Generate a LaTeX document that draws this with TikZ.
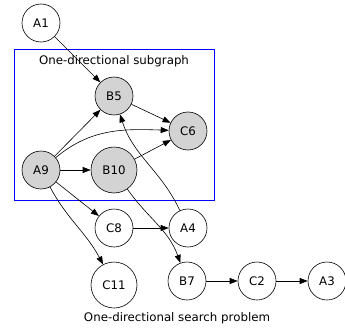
\documentclass[tikz,border=0pt]{standalone}
\usepackage{fontspec}
\setmainfont{DejaVu Sans}
\usetikzlibrary{arrows.meta}
\definecolor{nodegray}{RGB}{211,211,211}
\begin{document}
\begin{tikzpicture}[x=1pt,y=1pt,font=\fontsize{11.8}{14}\selectfont,
    vtx/.style={circle,draw,line width=0.6pt,minimum size=38pt,inner sep=0pt},
    sub/.style={vtx,fill=nodegray},
    edge/.style={-{Triangle[length=8pt,width=6pt]},line width=0.6pt}]
    \useasboundingbox(0,0) rectangle (345,-329);
    \draw[blue,line width=0.7pt](14,-49) rectangle (214,-200);
    \node(lab)at(114,-61){One-directional subgraph};
    \node(cap)at(177,-318){One-directional search problem};
    \node[vtx](A1)at(41,-23){A1};
    \node[sub](B5)at(114,-96){B5};
    \node[sub](C6)at(188,-131){C6};
    \node[sub](A9)at(41,-170){A9};
    \node[sub,minimum size=46pt](B10)at(114,-170){B10};
    \node[vtx](C8)at(114,-228){C8};
    \node[vtx](A4)at(188,-228){A4};
    \node[vtx,minimum size=46pt](C11)at(114,-285){C11};
    \node[vtx](B7)at(187,-281){B7};
    \node[vtx](C2)at(257,-281){C2};
    \node[vtx](A3)at(327,-281){A3};
    \draw[edge](A1)--(B5);
    \draw[edge](A9)--(B5);
    \draw[edge](A9) to[out=40,in=178] (C6);
    \draw[edge](A9)--(B10);
    \draw[edge](B5)--(C6);
    \draw[edge](B10)--(C6);
    \draw[edge](A4) to[out=115,in=-72] (B5);
    \draw[edge](B10) to[out=-55,in=110] (B7);
    \draw[edge](A9)--(C8);
    \draw[edge](A9) to[out=-62,in=118] (C11);
    \draw[edge](C8)--(A4);
    \draw[edge](B7)--(C2);
    \draw[edge](C2)--(A3);
\end{tikzpicture}
\end{document}
